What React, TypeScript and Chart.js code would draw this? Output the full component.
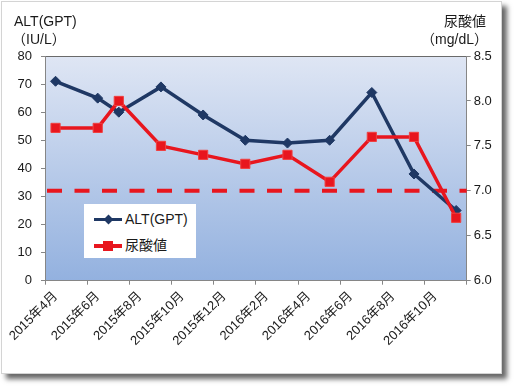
import React, { useEffect, useRef } from 'react';
import { Chart, registerables } from 'chart.js';

Chart.register(...registerables);

// ---- data ----
const months = [
  '2015年4月', '2015年5月', '2015年6月', '2015年7月', '2015年8月', '2015年9月',
  '2015年10月', '2015年11月', '2015年12月', '2016年1月', '2016年2月', '2016年3月',
  '2016年4月', '2016年5月', '2016年6月', '2016年7月', '2016年8月', '2016年9月',
  '2016年10月', '2016年11月',
];
const altValues = [71, null, 65, 60, null, 69, null, 59, null, 50, null, 49, null, 50, null, 67, null, 38, null, 25];
const uricValues = [7.7, null, 7.7, 8.0, null, 7.5, null, 7.4, null, 7.3, null, 7.4, null, 7.1, null, 7.6, null, 7.6, null, 6.7];
const uricLimit = 7.0;
const altLabel = 'ALT(GPT)';
const uricLabel = '尿酸値';
const leftTitle = ['ALT(GPT)', '（IU/L）'];
const rightTitle = ['尿酸値', '（mg/dL）'];

const NAVY = '#1f3864';
const RED = '#e8161e';
const FONT = "'Liberation Sans', 'Noto Sans CJK JP', sans-serif";

const plotPlugin = {
  id: 'plotBg',
  beforeDraw(chart: any) {
    const { ctx, chartArea } = chart;
    const { left, top, right, bottom } = chartArea;
    const g = ctx.createLinearGradient(0, top, 0, bottom);
    g.addColorStop(0, '#dfe6f4');
    g.addColorStop(1, '#93b1df');
    ctx.save();
    ctx.fillStyle = g;
    ctx.fillRect(left, top, right - left, bottom - top);
    ctx.strokeStyle = '#6a6a6a';
    ctx.lineWidth = 1;
    ctx.beginPath();
    ctx.moveTo(left, Math.round(top) + 0.5);
    ctx.lineTo(right, Math.round(top) + 0.5);
    ctx.stroke();
    ctx.restore();
  },
  beforeDatasetsDraw(chart: any) {
    const { ctx, chartArea } = chart;
    const y = chart.scales.y1.getPixelForValue(uricLimit);
    ctx.save();
    ctx.strokeStyle = RED;
    ctx.lineWidth = 4;
    ctx.setLineDash([15, 12.5]);
    ctx.beginPath();
    ctx.moveTo(chartArea.left + 2, y);
    ctx.lineTo(chartArea.right, y);
    ctx.stroke();
    ctx.restore();
  },
};

export default function App() {
  const ref = useRef<HTMLCanvasElement>(null);

  useEffect(() => {
    const canvas = ref.current!;
    const chart = new Chart(canvas, {
      type: 'line',
      data: {
        labels: months,
        datasets: [
          {
            label: altLabel,
            data: altValues,
            yAxisID: 'y',
            borderColor: NAVY,
            backgroundColor: NAVY,
            borderWidth: 3.5,
            pointStyle: 'rectRot',
            pointRadius: 5,
            pointBorderWidth: 1,
            pointBorderColor: NAVY,
            pointBackgroundColor: NAVY,
            spanGaps: true,
            tension: 0,
            order: 2,
          },
          {
            label: uricLabel,
            data: uricValues,
            yAxisID: 'y1',
            borderColor: RED,
            backgroundColor: RED,
            borderWidth: 3.5,
            pointStyle: 'rect',
            pointRadius: 6.5,
            pointBorderWidth: 1,
            pointBorderColor: '#f04040',
            pointBackgroundColor: RED,
            spanGaps: true,
            tension: 0,
            order: 1,
          },
        ],
      },
      options: {
        responsive: false,
        animation: false,
        layout: { padding: { top: 56, left: 0, right: 0, bottom: 0 } },
        plugins: {
          legend: { display: false },
          tooltip: { enabled: false },
        },
        scales: {
          x: {
            type: 'category',
            offset: true,
            grid: {
              offset: true,
              drawOnChartArea: false,
              drawTicks: true,
              tickLength: 4,
              tickColor: (ctx: any) =>
                ctx.index === undefined || ctx.index % 2 === 0 ? '#868686' : 'rgba(0,0,0,0)',
            },
            border: { display: true, color: '#868686', width: 1 },
            ticks: {
              autoSkip: false,
              maxRotation: 45,
              minRotation: 45,
              padding: 4,
              color: '#1a1a1a',
              font: { family: FONT, size: 13 },
              callback: (_v: any, i: number) => (i % 2 === 0 ? months[i] : ''),
            },
            afterFit: (s: any) => {
              s.height = 390 - 280.7;
              s.paddingLeft = 0;
              s.paddingRight = 0;
            },
          },
          y: {
            position: 'left',
            min: 0,
            max: 80,
            grid: { drawOnChartArea: false, tickLength: 4, tickColor: '#868686' },
            border: { display: true, color: '#868686', width: 1 },
            ticks: {
              stepSize: 10,
              padding: 9,
              color: '#1a1a1a',
              font: { family: FONT, size: 13 },
            },
            afterFit: (s: any) => {
              s.width = 45;
            },
          },
          y1: {
            position: 'right',
            min: 6,
            max: 8.5,
            grid: { drawOnChartArea: false, tickLength: 4, tickColor: '#868686' },
            border: { display: true, color: '#868686', width: 1 },
            ticks: {
              stepSize: 0.5,
              padding: 3,
              color: '#1a1a1a',
              font: { family: FONT, size: 13 },
              callback: (v: any) => Number(v).toFixed(1),
            },
            afterFit: (s: any) => {
              s.width = 518 - 466.7;
            },
          },
        },
      },
      plugins: [plotPlugin],
    });
    return () => chart.destroy();
  }, []);

  const txt: React.CSSProperties = {
    position: 'absolute',
    fontFamily: FONT,
    fontSize: 14,
    color: '#1a1a1a',
    whiteSpace: 'nowrap',
    lineHeight: '18px',
  };

  return (
    <div style={{ position: 'fixed', left: 0, top: 0, width: 518, height: 390, background: '#fff' }}>
      <div
        style={{
          position: 'absolute',
          left: 1,
          top: 1,
          width: 501,
          height: 373,
          boxSizing: 'border-box',
          border: '1px solid #d4d4d4',
          background: '#fff',
          boxShadow: '5px 5px 5px rgba(0,0,0,0.6)',
        }}
      />
      <canvas
        ref={ref}
        width={518}
        height={390}
        style={{ position: 'absolute', left: 0, top: 0, width: 518, height: 390 }}
      />
      <div style={{ ...txt, left: 14, top: 12 }}>{leftTitle[0]}</div>
      <div style={{ ...txt, left: 12, top: 30 }}>{leftTitle[1]}</div>
      <div style={{ ...txt, right: 518 - 486, top: 12, textAlign: 'right' }}>{rightTitle[0]}</div>
      <div style={{ ...txt, right: 518 - 488, top: 30, textAlign: 'right' }}>{rightTitle[1]}</div>
      <div
        style={{
          position: 'absolute',
          left: 84,
          top: 204,
          width: 112,
          height: 54,
          background: '#fff',
        }}
      >
        <div style={{ position: 'absolute', left: 10, top: 14, width: 28, height: 3, background: NAVY }} />
        <div
          style={{
            position: 'absolute',
            left: 20.5,
            top: 12,
            width: 7,
            height: 7,
            background: NAVY,
            transform: 'rotate(45deg)',
          }}
        />
        <div style={{ ...txt, left: 41, top: 6 }}>{altLabel}</div>
        <div style={{ position: 'absolute', left: 10, top: 40, width: 28, height: 3.5, background: RED }} />
        <div style={{ position: 'absolute', left: 19, top: 36.5, width: 10, height: 10, background: RED }} />
        <div style={{ ...txt, left: 41, top: 32 }}>{uricLabel}</div>
      </div>
    </div>
  );
}
